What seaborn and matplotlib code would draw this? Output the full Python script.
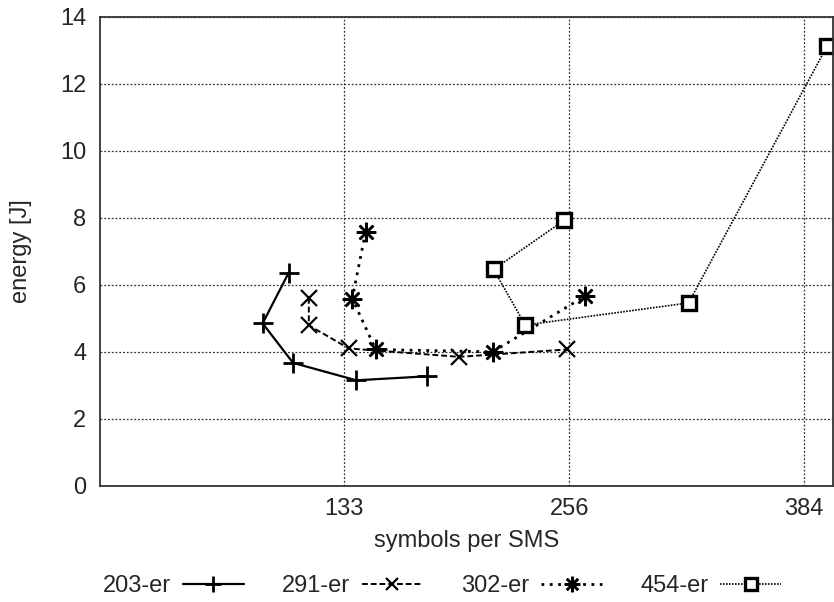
import matplotlib
matplotlib.use("Agg")
import matplotlib.pyplot as plt
import seaborn as sns

# Data
x_203 = [102.9, 88.7, 105.3, 139.8, 178.6]
y_203 = [6.36, 4.85, 3.67, 3.15, 3.27]

x_291 = [113.9, 113.9, 135.8, 195.9, 254.6]
y_291 = [5.61, 4.79, 4.10, 3.85, 4.07]

x_302 = [144.9, 137.6, 150.4, 214.2, 264.8]
y_302 = [7.59, 5.59, 4.07, 4.00, 5.67]

x_454 = [253.3, 214.7, 232.0, 321.1, 396.8]
y_454 = [7.93, 6.46, 4.80, 5.46, 13.14]

series_names = ["203-er", "291-er", "302-er", "454-er"]
x_ticks = [133, 256, 384]
y_ticks = [0, 2, 4, 6, 8, 10, 12, 14]

sns.set_style("white")
plt.rcParams["font.family"] = ["Liberation Sans", "DejaVu Sans"]

fig = plt.figure(figsize=(8.34, 6.02), dpi=100)
ax = fig.add_axes([0.12, 0.193, 0.879, 0.779])

styles = [
    dict(linestyle="-", linewidth=1.6, marker="+", markersize=15, markeredgewidth=2.0),
    dict(linestyle=(0, (3, 1.5)), linewidth=1.4, marker="x", markersize=11, markeredgewidth=1.6),
    dict(linestyle=(0, (1, 2)), linewidth=2.0, marker=(8, 2, 0), markersize=14, markeredgewidth=1.8),
    dict(linestyle=(0, (1, 0.8)), linewidth=1.2, marker="s", markersize=10.5, markeredgewidth=2.4,
         markerfacecolor="white"),
]
data = [(x_203, y_203), (x_291, y_291), (x_302, y_302), (x_454, y_454)]

for (xs, ys), name, st in zip(data, series_names, styles):
    sns.lineplot(x=xs, y=ys, sort=False, estimator=None, color="black",
                 markeredgecolor="black", label=name, ax=ax, legend=False, **st)

ax.set_xlim(0, 400)
ax.set_ylim(0, 14)
ax.set_xticks(x_ticks)
ax.set_yticks(y_ticks)
ax.tick_params(labelsize=17, length=0)
ax.tick_params(axis="y", pad=10)
ax.tick_params(axis="x", pad=9)
ax.grid(True, color="#333333", linestyle=(0, (1.5, 1.5)), linewidth=0.9)
for s in ax.spines.values():
    s.set_color("#333333")
    s.set_linewidth(1.3)

ax.set_xlabel("symbols per SMS", fontsize=17, labelpad=7)
ax.set_ylabel("energy [J]", fontsize=17, labelpad=20)

handles, labels = ax.get_legend_handles_labels()
fig.legend(handles, labels, loc="center", bbox_to_anchor=(0.53, 1 - 586 / 602),
           ncol=4, frameon=False, markerfirst=False, fontsize=17, markerscale=0.8,
           handlelength=2.6, columnspacing=1.6, handletextpad=0.5)

fig.savefig("out.png", dpi=100)
